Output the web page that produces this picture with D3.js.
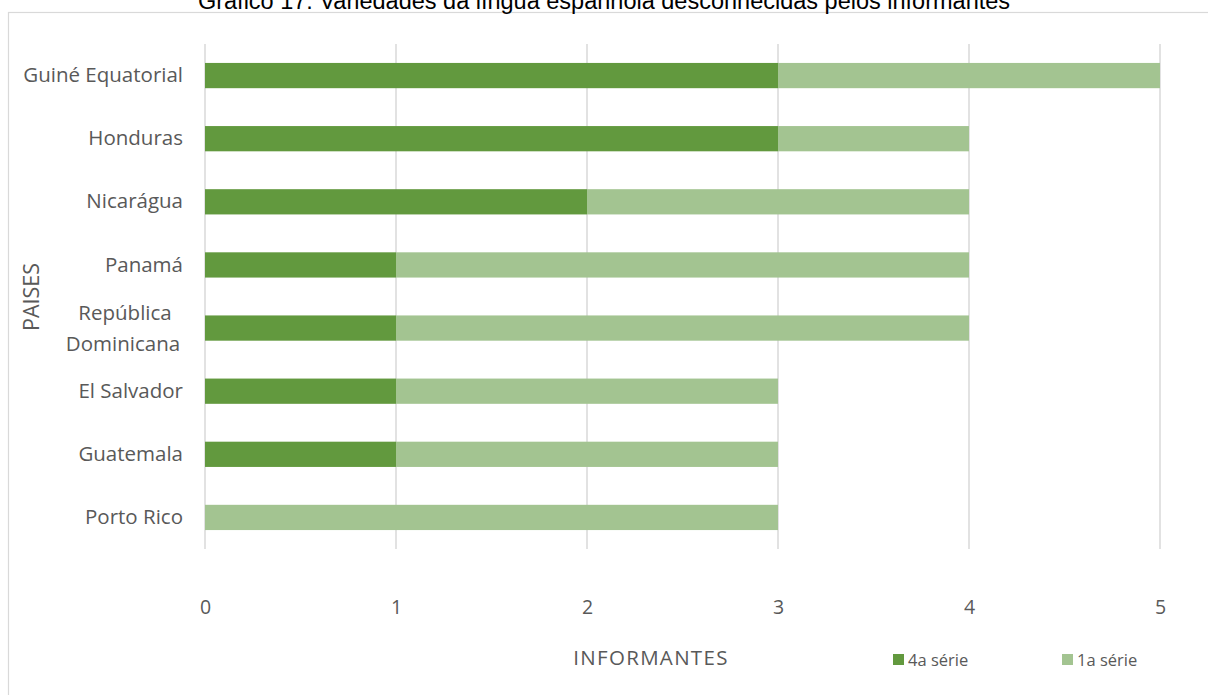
<!DOCTYPE html>
<html>
<head>
<meta charset="utf-8">
<script src="https://cdn.jsdelivr.net/npm/d3@7"></script>
<style>
html,body{margin:0;padding:0;background:#fff;}
svg{display:block;}
</style>
</head>
<body>
<svg id="chart" width="1208" height="695"></svg>
<script>
const categories = ["Guiné Equatorial","Honduras","Nicarágua","Panamá","República Dominicana","El Salvador","Guatemala","Porto Rico"];
const serie4a = [3,3,2,1,1,1,1,0];
const serie1a = [2,1,2,3,3,2,2,3];
const seriesNames = ["4a série","1a série"];
const xTicks = [0,1,2,3,4,5];
const colors = ["#62993e","#a3c491"];
const titleText = "Gráfico 17: Variedades da língua espanhola desconhecidas pelos informantes";

const svg = d3.select("#chart");
const W = 1208, H = 695;
const m = {left:205, right:48, top:44, bottom:146};

svg.append("rect").attr("x",8.5).attr("y",12.5).attr("width",1210).attr("height",700)
  .attr("fill","#fff").attr("stroke","#d9d9d9").attr("stroke-width",1.2);

svg.append("text").attr("x",604).attr("y",8.5).attr("text-anchor","middle")
  .attr("font-family","Liberation Sans, Arial, sans-serif").attr("font-size",23.5).attr("fill","#000")
  .text(titleText);

const x = d3.scaleLinear().domain([0,5]).range([m.left, W - m.right]);
const y = d3.scaleBand().domain(categories).range([m.top, H - m.bottom]).paddingInner(0.6).paddingOuter(0.3);

const font = "Open Sans, Calibri, sans-serif";
const txt = "#595959";
const labelSize = 20.5;

// gridlines
const xAxis = d3.axisBottom(x).tickValues(xTicks).tickSize(0).tickFormat(d3.format("d"));
const grid = svg.append("g");
grid.selectAll("line").data(xTicks).join("line")
  .attr("x1",d=>x(d)).attr("x2",d=>x(d))
  .attr("y1",m.top).attr("y2",H - m.bottom)
  .attr("stroke","#d9d9d9").attr("stroke-width",1.5);

const stackData = categories.map((c,i)=>({cat:c, s0:serie4a[i], s1:serie1a[i]}));
const stack = d3.stack().keys(["s0","s1"])(stackData);

svg.append("g").selectAll("g").data(stack).join("g")
  .attr("fill",(d,i)=>colors[i])
  .selectAll("rect").data(d=>d).join("rect")
  .attr("x",d=>x(d[0]))
  .attr("width",d=>x(d[1])-x(d[0]))
  .attr("y",d=>y(d.data.cat))
  .attr("height",y.bandwidth());

// x axis labels
const gx = svg.append("g").attr("transform",`translate(0,${H - m.bottom + 58})`).call(xAxis);
gx.select(".domain").remove();
gx.selectAll("text").attr("font-family",font).attr("font-size",19.5).attr("fill",txt).attr("dy","0.35em").attr("y",0);

// y axis labels
const yAxis = d3.axisLeft(y).tickSize(0).tickPadding(22);
const gy = svg.append("g").attr("transform",`translate(${m.left},0)`).call(yAxis);
gy.select(".domain").remove();
gy.selectAll("text").attr("font-family",font).attr("font-size",labelSize).attr("fill",txt)
  .each(function(d){
    if(d === "República Dominicana"){
      const t = d3.select(this);
      t.text(null).attr("dy",null).attr("text-anchor","middle");
      t.append("tspan").attr("x",-m.left+125).attr("y",-8).text("República");
      t.append("tspan").attr("x",-m.left+123).attr("y",23).text("Dominicana");
    }
  });

// axis titles
svg.append("text").attr("transform","translate(31,297) rotate(-90)").attr("text-anchor","middle")
  .attr("dy","0.35em").attr("font-family",font).attr("font-size",21.5).attr("fill",txt).text("PAISES");
svg.append("text").attr("x",651).attr("y",658).attr("text-anchor","middle").attr("dy","0.35em")
  .attr("font-family",font).attr("font-size",20.5).attr("letter-spacing",1.3).attr("fill",txt).text("INFORMANTES");

// legend
const legX = [893, 1062];
const leg = svg.append("g").selectAll("g").data(seriesNames).join("g")
  .attr("transform",(d,i)=>`translate(${legX[i]},654)`);
leg.append("rect").attr("width",11).attr("height",11).attr("fill",(d,i)=>colors[i]);
leg.append("text").attr("x",15).attr("y",6).attr("dy","0.35em")
  .attr("font-family",font).attr("font-size",16.5).attr("fill",txt).text(d=>d);
</script>
</body>
</html>
